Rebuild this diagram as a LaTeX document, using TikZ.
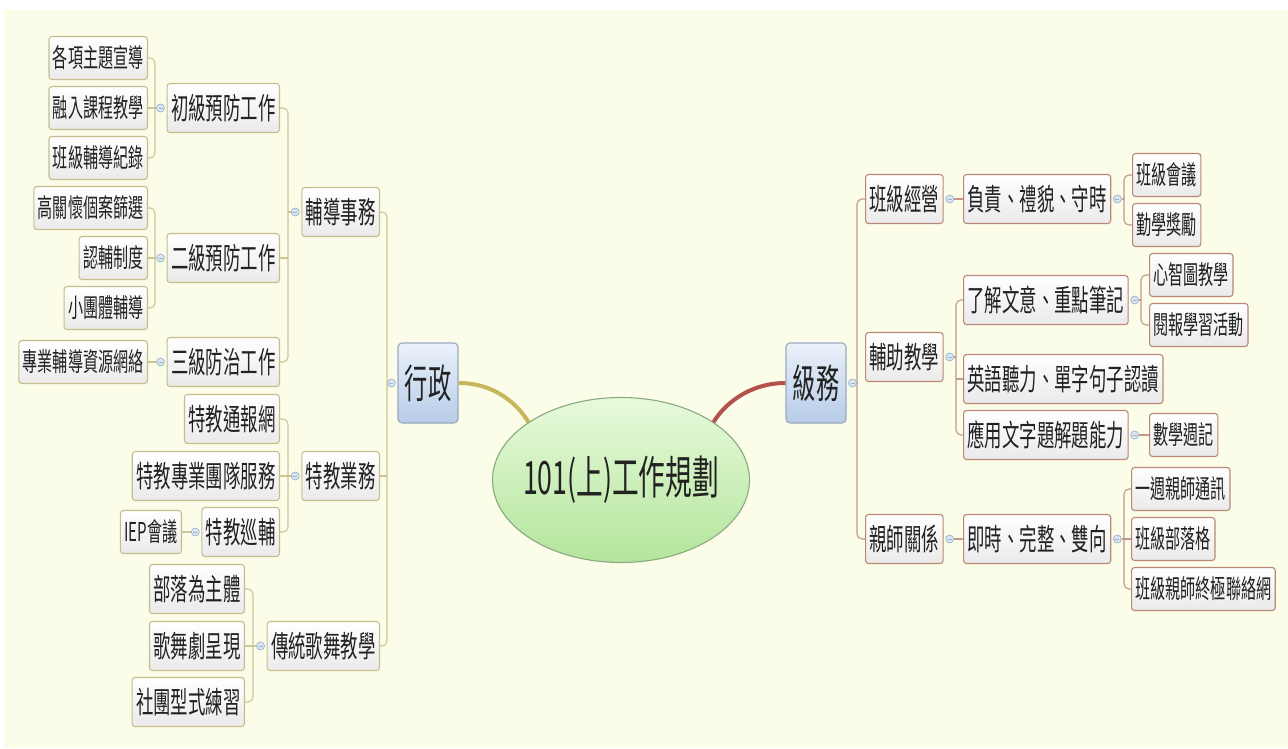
\documentclass[tikz,border=0pt]{standalone}
\usepackage{fontspec}
\usetikzlibrary{shapes.geometric,calc}
\newfontfamily\cjk[FakeStretch=0.58]{Noto Sans CJK TC}
\definecolor{bgc}{HTML}{FBFDE8}
\definecolor{txt}{HTML}{222222}
\definecolor{boxb}{HTML}{EAEAEA}
\definecolor{lbord}{HTML}{C5BE8C}
\definecolor{rbord}{HTML}{B98878}
\definecolor{lcon}{HTML}{CCC596}
\definecolor{rcon}{HTML}{C39888}
\definecolor{mkd}{HTML}{9DB2CB}
\definecolor{mkf}{HTML}{D8E6F4}
\definecolor{thickl}{HTML}{C8B65A}
\definecolor{thickr}{HTML}{B4514C}
\definecolor{bluet}{HTML}{EAF1FA}
\definecolor{blueb}{HTML}{B7CCE8}
\definecolor{blued}{HTML}{98A8BF}
\definecolor{greent}{HTML}{E8FADB}
\definecolor{greenb}{HTML}{B3E59C}
\definecolor{greend}{HTML}{8BA982}
\begin{document}
\begin{tikzpicture}[x=1pt,y=-1pt,
  box/.style={rounded corners=3pt, top color=white, bottom color=boxb, text=txt,
    inner xsep=4pt, inner ysep=0pt, line width=1.1pt},
  lbox/.style={box, draw=lbord},
  rbox/.style={box, draw=rbord},
  big/.style={font=\cjk\fontsize{30}{33}\selectfont, minimum height=49pt},
  small/.style={font=\cjk\fontsize{26}{29}\selectfont, minimum height=43pt},
  mainbox/.style={rounded corners=4pt, top color=bluet, bottom color=blueb, draw=blued,
    line width=1.1pt, text=txt, font=\cjk\fontsize{40}{44}\selectfont,
    minimum width=60pt, minimum height=80pt, inner sep=0pt},
  mk/.style={circle, draw=mkd, fill=mkf, minimum size=8pt, inner sep=0pt, line width=0.7pt,
    path picture={\draw[mkd, line width=0.8pt] ([xshift=-2pt]path picture bounding box.center) -- ([xshift=2pt]path picture bounding box.center);}},
  lline/.style={draw=lcon, line width=1.1pt, rounded corners=5pt},
  rline/.style={draw=rcon, line width=1.1pt, rounded corners=5pt}
]
\useasboundingbox (0,0) rectangle (1288,748);
\fill[white] (0,0) rectangle (1288,748);
\fill[bgc] (4,10) rectangle (1288,748);

% ---------- centre ----------
\node[ellipse, top color=greent, bottom color=greenb, draw=greend, line width=1.1pt,
  minimum width=257pt, minimum height=165pt, inner sep=0pt] (E) at (621,480) {};
\node[text=txt, font=\cjk\fontsize{46}{50}\selectfont, inner sep=0pt] (Et) at (E.center) {101(上)工作規劃};
\node[mainbox] (X) at (428,383) {行政};
\node[mainbox] (J) at (816,383) {級務};
\draw[thickl, line width=4pt] (X.east) .. controls +(37,0) and +(-10,-17) .. (E.148);
\draw[thickr, line width=4pt] (J.west) .. controls +(-37,0) and +(10,-17) .. (E.32);

% ---------- left: level 2 ----------
\node[lbox,big,anchor=east] (G) at (380,212) {輔導事務};
\node[lbox,big,anchor=east] (D) at (380,476) {特教業務};
\node[lbox,big,anchor=east] (T) at (380,646) {傳統歌舞教學};
% level 3
\node[lbox,big,anchor=east] (A) at (280,108) {初級預防工作};
\node[lbox,big,anchor=east] (B) at (280,258) {二級預防工作};
\node[lbox,big,anchor=east] (C) at (280,362) {三級防治工作};
\node[lbox,big,anchor=east] (d1) at (280,419) {特教通報網};
\node[lbox,big,anchor=east] (d2) at (280,476) {特教專業團隊服務};
\node[lbox,big,anchor=east] (d3) at (280,532) {特教巡輔};
\node[lbox,big,anchor=east] (t1) at (245,589) {部落為主體};
\node[lbox,big,anchor=east] (t2) at (245,646) {歌舞劇呈現};
\node[lbox,big,anchor=east] (t3) at (245,702) {社團型式練習};
% level 4
\node[lbox,small,anchor=east] (a1) at (148,58) {各項主題宣導};
\node[lbox,small,anchor=east] (a2) at (148,108) {融入課程教學};
\node[lbox,small,anchor=east] (a3) at (148,158) {班級輔導紀錄};
\node[lbox,small,anchor=east] (b1) at (148,208) {高關懷個案篩選};
\node[lbox,small,anchor=east] (b2) at (148,258) {認輔制度};
\node[lbox,small,anchor=east] (b3) at (148,308) {小團體輔導};
\node[lbox,small,anchor=east] (c1) at (148,362) {專業輔導資源網絡};
\node[lbox,small,anchor=east] (e1) at (182,532) {IEP會議};

% ---------- left connectors ----------
% 行政
\coordinate (sX) at (387,383);
\draw[lline] (G.east) -- (G.east -| sX) -- (sX);
\draw[lline] (T.east) -- (T.east -| sX) -- (sX);
\draw[lline] (D.east) -- (D.east -| sX);
\node[mk] (mX) at ([xshift=-6pt]X.west) {};
\draw[lline] (sX) -- (mX);
% 輔導事務
\coordinate (sG) at (288,212);
\draw[lline] (A.east) -- (A.east -| sG) -- (sG);
\draw[lline] (C.east) -- (C.east -| sG) -- (sG);
\draw[lline] (B.east) -- (B.east -| sG);
\node[mk] (mG) at ([xshift=-6pt]G.west) {};
\draw[lline] (sG) -- (mG);
% 初級
\coordinate (sA) at (155,108);
\draw[lline] (a1.east) -- (a1.east -| sA) -- (sA);
\draw[lline] (a3.east) -- (a3.east -| sA) -- (sA);
\node[mk] (mA) at ([xshift=-6pt]A.west) {};
\draw[lline] (a2.east) -- (mA);
% 二級
\coordinate (sB) at (155,258);
\draw[lline] (b1.east) -- (b1.east -| sB) -- (sB);
\draw[lline] (b3.east) -- (b3.east -| sB) -- (sB);
\node[mk] (mB) at ([xshift=-6pt]B.west) {};
\draw[lline] (b2.east) -- (mB);
% 三級
\node[mk] (mC) at ([xshift=-6pt]C.west) {};
\draw[lline] (c1.east) -- (mC);
% 特教業務
\coordinate (sD) at (288,476);
\draw[lline] (d1.east) -- (d1.east -| sD) -- (sD);
\draw[lline] (d3.east) -- (d3.east -| sD) -- (sD);
\node[mk] (mD) at ([xshift=-6pt]D.west) {};
\draw[lline] (d2.east) -- (mD);
% 特教巡輔
\node[mk] (md3) at ([xshift=-6pt]d3.west) {};
\draw[lline] (e1.east) -- (md3);
% 傳統歌舞教學
\coordinate (sT) at (253,646);
\draw[lline] (t1.east) -- (t1.east -| sT) -- (sT);
\draw[lline] (t3.east) -- (t3.east -| sT) -- (sT);
\node[mk] (mT) at ([xshift=-6pt]T.west) {};
\draw[lline] (t2.east) -- (mT);

% ---------- right: level 2 ----------
\node[rbox,big,anchor=west] (K) at (865,199) {班級經營};
\node[rbox,big,anchor=west] (H) at (865,357) {輔助教學};
\node[rbox,big,anchor=west] (P) at (865,539) {親師關係};
% level 3
\node[rbox,big,anchor=west] (k1) at (963,199) {負責、禮貌、守時};
\node[rbox,big,anchor=west] (h1) at (963,300) {了解文意、重點筆記};
\node[rbox,big,anchor=west] (h2) at (963,379) {英語聽力、單字句子認讀};
\node[rbox,big,anchor=west] (h3) at (963,435) {應用文字題解題能力};
\node[rbox,big,anchor=west] (p1) at (963,539) {即時、完整、雙向};
% level 4
\node[rbox,small,anchor=west] (k11) at (1132,175) {班級會議};
\node[rbox,small,anchor=west] (k12) at (1132,225) {勤學獎勵};
\node[rbox,small,anchor=west] (h11) at (1149,275) {心智圖教學};
\node[rbox,small,anchor=west] (h12) at (1149,325) {閱報學習活動};
\node[rbox,small,anchor=west] (h31) at (1149,435) {數學週記};
\node[rbox,small,anchor=west] (p11) at (1131,489) {一週親師通訊};
\node[rbox,small,anchor=west] (p12) at (1131,539) {班級部落格};
\node[rbox,small,anchor=west] (p13) at (1131,589) {班級親師終極聯絡網};

% ---------- right connectors ----------
% 級務
\coordinate (sJ) at (857,383);
\draw[rline] (K.west) -- (K.west -| sJ) -- (sJ);
\draw[rline] (P.west) -- (P.west -| sJ) -- (sJ);
\node[mk] (mJ) at ([xshift=6pt]J.east) {};
\draw[rline] (mJ) -- (sJ);
% 班級經營
\node[mk] (mK) at ([xshift=6pt]K.east) {};
\draw[rline] (mK) -- (k1.west);
% 負責
\coordinate (sk1) at ([xshift=-8pt]k11.west |- k1.east);
\draw[rline] (k11.west) -- (k11.west -| sk1) -- (sk1);
\draw[rline] (k12.west) -- (k12.west -| sk1) -- (sk1);
\node[mk] (mk1) at ([xshift=6pt]k1.east) {};
\draw[rline] (mk1) -- (sk1);
% 輔助教學
\coordinate (sH) at (956,357);
\draw[rline] (h1.west) -- (h1.west -| sH) -- (sH);
\draw[rline] (h3.west) -- (h3.west -| sH) -- (sH);
\draw[rline] (h2.west) -- (h2.west -| sH);
\node[mk] (mH) at ([xshift=6pt]H.east) {};
\draw[rline] (mH) -- (sH);
% 了解文意
\coordinate (sh1) at ([xshift=-8pt]h11.west |- h1.east);
\draw[rline] (h11.west) -- (h11.west -| sh1) -- (sh1);
\draw[rline] (h12.west) -- (h12.west -| sh1) -- (sh1);
\node[mk] (mh1) at ([xshift=6pt]h1.east) {};
\draw[rline] (mh1) -- (sh1);
% 應用文字題
\node[mk] (mh3) at ([xshift=6pt]h3.east) {};
\draw[rline] (mh3) -- (h31.west);
% 親師關係
\node[mk] (mP) at ([xshift=6pt]P.east) {};
\draw[rline] (mP) -- (p1.west);
% 即時
\coordinate (sp1) at ([xshift=-7pt]p11.west |- p1.east);
\draw[rline] (p11.west) -- (p11.west -| sp1) -- (sp1);
\draw[rline] (p13.west) -- (p13.west -| sp1) -- (sp1);
\node[mk] (mp1) at ([xshift=6pt]p1.east) {};
\draw[rline] (mp1) -- (p12.west);
\end{tikzpicture}
\end{document}
